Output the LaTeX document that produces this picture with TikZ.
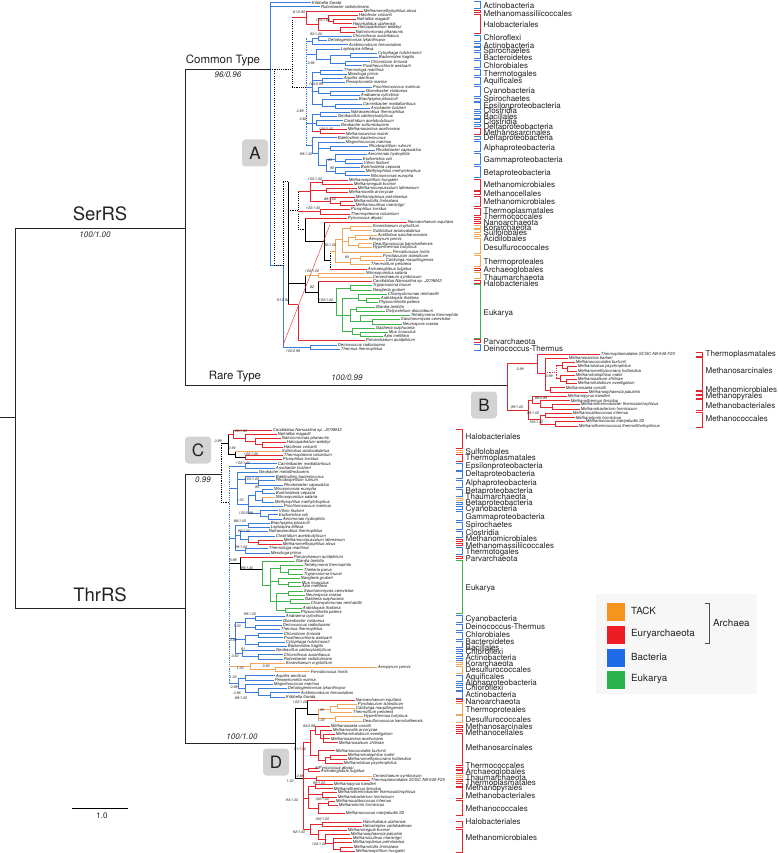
\documentclass[tikz,border=0pt]{standalone}
\usepackage{fontspec}
\setmainfont{TeX Gyre Heros}
\definecolor{cB}{HTML}{3A7DDA}
\definecolor{cR}{HTML}{E5262E}
\definecolor{cO}{HTML}{F2A65A}
\definecolor{cG}{HTML}{3DB54A}
\definecolor{lO}{HTML}{F7941E}
\definecolor{lR}{HTML}{EE1C25}
\definecolor{lB}{HTML}{1F6BE8}
\definecolor{lG}{HTML}{2AB34B}
\definecolor{txt}{HTML}{222222}
\definecolor{boxg}{HTML}{D3D3D3}
\tikzset{
 br/.style={line width=0.9pt},
 bl/.style={br,draw=cB}, rd/.style={br,draw=cR}, og/.style={br,draw=cO},
 gn/.style={br,draw=cG}, bk/.style={br,draw=black},
 dk/.style={bk,dash pattern=on 1.1pt off 1.1pt},
 db/.style={bl,dash pattern=on 1.1pt off 1.1pt},
 dr/.style={rd,dash pattern=on 1.1pt off 1.1pt},
 trunk/.style={line width=0.9pt,draw=black!85},
 leaf/.style={anchor=west,inner sep=0.5pt,text=txt,font=\fontsize{4.2}{4.6}\selectfont\itshape},
 supv/.style={inner sep=0.3pt,text=txt,font=\fontsize{3.6}{4}\selectfont\itshape},
 clab/.style={anchor=west,inner sep=0.5pt,text=txt,font=\fontsize{8}{8}\selectfont},
 bigl/.style={font=\fontsize{18.5}{20}\selectfont,inner sep=0,text=txt},
 midl/.style={font=\fontsize{11.5}{12}\selectfont,inner sep=0,text=txt},
 smi/.style={font=\fontsize{8}{9}\selectfont\itshape,inner sep=0,text=txt},
 boxlab/.style={fill=boxg,rounded corners=3.5pt,minimum width=26pt,minimum height=27pt,inner sep=0,font=\fontsize{17}{17}\selectfont,text=txt},
 legbox/.style={minimum width=18pt,minimum height=18pt,inner sep=0},
 legl/.style={anchor=west,inner sep=0,font=\fontsize{9.8}{10}\selectfont,text=txt},
 brk/.style={line width=0.6pt},
}
\begin{document}
\begin{tikzpicture}[x=1pt,y=-1pt]
\useasboundingbox (0,0) rectangle (778,853);
\fill[white] (0,0) rectangle (778,853);

% ---------- backbone ----------
\draw[trunk] (0,417)--(15,417) (15,228)--(15,608) (15,228)--(185,228)
 (185,69)--(185,385) (185,69)--(270,69) (185,385)--(507,385)
 (15,608)--(185,608) (185,474)--(185,743) (185,474)--(221,474) (185,743)--(295,743);
\node[bigl] (serrs) at (100,214) {SerRS};
\node[smi] (serbs) at (95,235) {100/1.00};
\node[midl] (ctype) at (223,60) {Common Type};
\node[smi] (ctbs) at (228,75) {96/0.96};
\node[midl] (rtype) at (235,377) {Rare Type};
\node[smi] (rtbs) at (347,378) {100/0.99};
\node[bigl] (thrrs) at (100,595) {ThrRS};
\node[smi] (cbs) at (203,480) {0.99};
\node[smi] (dbs) at (242,737) {100/1.00};
\node[boxlab] (boxA) at (255,153) {A};
\node[boxlab] (boxB) at (484,405) {B};
\node[boxlab] (boxC) at (198,450) {C};
\node[boxlab] (boxD) at (276,762) {D};
\coordinate (sb1) at (72,808); \coordinate (sb2) at (128,808);
\draw[line width=0.8pt] (sb1)--(sb2);
\node[font=\fontsize{8}{9}\selectfont,inner sep=0,text=txt] (sbl) at (102,816) {1.0};

% ---------- subtree A ----------
\begin{scope}[yshift=-2.5pt,y={(0pt,-4.23pt)}]
\draw[bl] (270,0)--(270,62.06)--(283,62.06)--(283,81.5)--(310,81.5) (310,81)--(310,82);
\draw[dk] (270,15.72)--(292,15.72) (292,3.5)--(292,20) (292,20)--(306,20) (274,15.72)--(274,62.06)--(283,62.06);
\draw[db] (306,8.5)--(306,33.9);
\draw[rd] (292,3.5)--(306,3.5) (306,2)--(306,5.1) (306,5.1)--(318,5.1) (318,3.75)--(318,6.5) (318,3.75)--(328,3.75) (328,3)--(328,4.5) (328,4.5)--(333,4.5) (333,4)--(333,5) (318,6.5)--(340,6.5) (340,6)--(340,7);
\draw[bl] (306,9.25)--(312,9.25) (312,8.5)--(312,10) (312,8.5)--(318,8.5) (318,8)--(318,9)
 (306,12.25)--(316,12.25) (316,11)--(316,13.5) (316,13.5)--(330,13.5) (330,12.5)--(330,14.5) (330,12.5)--(350,12.5) (350,12)--(350,13) (330,14.5)--(345,14.5) (345,14)--(345,15);
\draw[bl] (306,20)--(312,20) (312,16.5)--(312,24) (312,16.5)--(320,16.5) (320,16)--(320,17) (312,18.5)--(322,18.5) (322,18)--(322,19) (312,21)--(318,21) (318,20)--(318,21.5) (318,21.5)--(330,21.5) (330,21)--(330,22) (312,24)--(322,24) (322,23)--(322,24.5) (322,24.5)--(335,24.5) (335,24)--(335,25);
\draw[bl] (306,28.5)--(312,28.5) (312,26.5)--(312,30.5) (312,26.5)--(320,26.5) (320,26)--(320,27) (312,28.5)--(316,28.5) (316,28)--(316,29);
\draw[rd] (312,30.5)--(320,30.5) (320,30)--(320,31);
\draw[bl] (306,33.9)--(312,33.9) (312,32)--(312,35.75) (312,35.75)--(318,35.75) (318,33)--(318,38.5) (318,34.5)--(330,34.5) (330,34)--(330,35) (318,38.5)--(326,38.5) (326,37)--(326,40) (326,37)--(335,37) (335,36)--(335,37.5) (335,37.5)--(345,37.5) (345,37)--(345,38) (326,40)--(335,40) (335,39)--(335,40.5) (335,40.5)--(345,40.5) (345,40)--(345,41);
\draw[bk] (288,42.4)--(288,71.5);
\draw[dk] (283,42.4)--(288,42.4) (283,42.4)--(283,62.06) (288,49.2)--(298,49.2) (298,44.7)--(298,53.75) (298,53.75)--(305,53.75);
\draw[rd] (298,44.7)--(310,44.7) (310,42.5)--(310,47) (310,42.5)--(322,42.5) (322,42)--(322,43) (310,44.5)--(326,44.5) (326,44)--(326,45) (310,47)--(330,47) (330,46)--(330,47.5) (330,47.5)--(340,47.5) (340,47)--(340,48);
\draw[rd] (298,49.5)--(320,49.5) (320,49)--(320,50);
\draw[bk] (305,51)--(305,56.5) (305,56.5)--(324,56.5) (324,52)--(324,61) (324,61)--(330,61);
\draw[dk] (330,58.75)--(330,63);
\draw[og] (330,58.75)--(335,58.75) (335,56)--(335,61.5) (335,56)--(342,56) (342,53.5)--(342,59) (342,53.5)--(350,53.5) (350,53)--(350,54) (342,56.5)--(348,56.5) (348,55.5)--(348,57.5) (348,55.5)--(355,55.5) (355,55)--(355,56) (348,57.5)--(358,57.5) (358,57)--(358,58) (335,61.5)--(350,61.5) (350,60.5)--(350,62) (350,60.5)--(360,60.5) (360,60)--(360,61);
\draw[bk] (288,66.5)--(305,66.5) (305,64.5)--(305,68.5) (305,68.5)--(318,68.5) (318,66)--(318,71) (318,71)--(336,71);
\draw[og] (305,64.5)--(318,64.5) (318,64)--(318,65);
\draw[gn] (336,67.5)--(336,74) (336,67.5)--(350,67.5) (350,67)--(350,68) (336,74)--(342,74) (342,70)--(342,77.75) (342,70)--(358,70) (358,69)--(358,70.5) (358,70.5)--(366,70.5) (366,70)--(366,71) (342,74)--(350,74) (350,72.5)--(350,75.5) (350,72.5)--(356,72.5) (356,72)--(356,73) (350,75.5)--(360,75.5) (360,74)--(360,75.5) (360,75.5)--(372,75.5) (372,75)--(372,76) (342,77.75)--(352,77.75) (352,77)--(352,78.5) (352,78.5)--(360,78.5) (360,78)--(360,79);
\draw[rd] (288,71.5)--(298,71.5) (298,71.5)--(298,80);
\draw[cR,line width=0.4pt] (283,81)--(330,52.5);
\foreach \s/\a/\b/\n [count=\i from 0] in {
bl/270/311/Kribbella flavida, bl/270/320/Rubrobacter radiotolerans,
rd/306/363/Methanomethylophilus alvus, rd/328/358/Haloferax volcanii,
rd/333/356/Natrialba magadii, rd/333/352/Halorhabdus utahensis,
rd/340/357/Haloquadratum walsbyi, rd/340/355/Natronomonas pharaonis,
bl/318/352/Chloroflexus aurantiacus, bl/318/327/Dehalogenimonas lykanthropor,
bl/312/348/Acidimicrobium ferrooxidans, bl/316/340/Leptospira biflexa,
bl/350/377/Cytophaga hutchinsonii, bl/350/378/Bacteroides fragilis,
bl/345/370/Chlorobium limicola, bl/345/362/Prosthecochloris aestuarii,
bl/320/343/Thermotoga maritima, bl/320/347/Mesotoga prima,
bl/322/343/Aquifex aeolicus, bl/322/345/Persephonella marina,
bl/318/372/Prochlorococcus marinus, bl/330/365/Gloeobacter violaceus,
bl/330/360/Anabaena cylindrica, bl/322/358/Brachyspira pilosicoli,
bl/335/362/Caminibacter mediatlanticus, bl/335/370/Arcobacter butzleri,
bl/320/350/Natranaerobius thermophilus, bl/320/337/Geobacillus caldoxylosilyticus,
bl/316/343/Clostridium acetobutylicum, bl/316/340/Geobacter sulfurreducens,
rd/320/347/Methanosarcina acetivorans, rd/320/345/Methanosarcina mazei,
bl/312/337/Bdellovibrio bacteriovorus, bl/318/345/Magnetococcus marinus,
bl/330/368/Rhodospirillum rubrum, bl/330/375/Rhodobacter capsulatus,
bl/335/367/Aeromonas hydrophila, bl/345/362/Escherichia coli,
bl/345/363/Vibrio fischeri, bl/335/360/Burkholderia cepacia,
bl/345/365/Methylophilus methylotrophus, bl/345/370/Nitrosomonas europha,
rd/322/348/Methanospirillum hungatei, rd/322/353/Methanoregula boonei,
rd/326/357/Methanocorpusculum labreanum, rd/326/348/Methanocella arvoryzae,
rd/330/355/Methanoplanus petrolearius, rd/340/353/Methanofollis liminatans,
rd/340/355/Methanoculleus marisnigri, rd/320/350/Picrophilus torridus,
rd/320/350/Thermoplasma volcanium, rd/305/347/Pyrococcus abyssi,
rd/324/407/Nanoarchaeum equitans, og/350/372/Korarchaeum cryptofilum,
og/350/372/Sulfolobus acidocaldarius, og/355/377/Acidilobus saccharovorans,
og/355/368/Aeropyrum pernix, og/358/372/Desulfurococcus kamchatkensis,
og/358/372/Hyperthermus butylicus, og/342/392/Fervidicoccus fontis,
og/360/382/Pyrobaculum islandicum, og/360/385/Caldivirga maquilingensis,
og/350/370/Thermofilum pendens, rd/330/367/Archaeoglobus fulgidus,
og/318/365/Nitrosopumilus salaria, og/318/372/Cenarchaeum symbiosum,
rd/318/372/Candidatus Nanosalina sp. J07AB43, gn/350/372/Trypanosoma brucei,
gn/350/372/Naegleria gruberi, gn/358/387/Chlamydomonas reinhardtii,
gn/366/380/Arabidopsis thaliana, gn/366/378/Physcomitrella patens,
gn/356/375/Giardia lamblia, gn/356/385/Dictyostelium discoideum,
gn/360/410/Tetrahymena thermophila, gn/372/400/Saccharomyces cerevisiae,
gn/372/402/Neurospora crassa, gn/352/375/Galdieria sulphuraria,
gn/360/388/Mus musculus, gn/360/383/Apis mellifera,
rd/298/365/Parvarchaeum acidiphilum, bl/310/337/Deinococcus radiodurans,
bl/310/340/Thermus thermophilus}
{\draw[\s] (\a,\i)--(\b,\i) node[leaf] (A\i) {\n};}
\foreach \x/\y/\t [count=\j] in {299/2.4/{81/0.90}, 323/4.3/{100/1.00}, 316/7.6/{93/1.00}, 311/14.3/{0.96},
 316/19.3/{100/0.99}, 300/25.7/{0.89}, 303/27.5/{0.82}, 326/29.9/{100/1.00}, 306/35.9/{99/1.00},
 330/37.2/{95}, 332/39.3/{95}, 315/41.8/{100/1.00}, 330/46.4/{89/1.00}, 313/48.7/{100/1.00},
 330/57.4/{95/1.00}, 347/60.2/{84}, 312/63.6/{100/1.00}, 312/67.4/{82}, 326/70.5/{100/1.00},
 283/70.4/{91/0.92}, 293/82.4/{100/0.99}}
{\node[supv] (sa\j) at (\x,\y) {\t};}
\end{scope}

% ---------- subtree B ----------
\begin{scope}[yshift=-354pt,y={(0pt,-4.24pt)}]
\draw[rd] (507,2.3)--(507,13.2) (507,2.3)--(537,2.3) (537,0)--(537,4.6) (537,4.6)--(545,4.6) (545,1)--(545,8.5) (545,8.5)--(550,8.5) (550,8)--(550,9)
 (507,13.2)--(528,13.2) (528,10.9)--(528,15.5) (528,10.9)--(532,10.9) (532,10)--(532,11.75) (532,11.75)--(540,11.75) (540,11)--(540,12.5) (540,12.5)--(552,12.5) (552,12)--(552,13)
 (528,15.5)--(540,15.5) (540,14.5)--(540,16.5) (540,14.5)--(545,14.5) (545,14)--(545,15) (540,16.5)--(555,16.5) (555,16)--(555,17);
\draw[dr] (545,4.25)--(556,4.25) (556,2.75)--(556,5.75);
\draw[rd] (556,2.75)--(562,2.75) (562,2)--(562,3.5) (562,3.5)--(567,3.5) (567,3)--(567,4) (556,5.75)--(560,5.75) (560,5)--(560,6.5) (560,6.5)--(566,6.5) (566,6)--(566,7);
\foreach \s/\a/\b/\n [count=\i from 0] in {
rd/537/600/Thermoplasmatales SCGC AB-540-F20, rd/545/568/Methanosarcina barkeri,
rd/562/575/Methanococcoides burtonii, rd/567/577/Methanolobus psychrophilus,
rd/567/577/Methanomethylovorans hollandica, rd/560/575/Methanohalophilus mahii,
rd/566/577/Methanosalsum zhilinae, rd/566/577/Methanohalobium evestigatum,
rd/550/565/Methanosaeta concilii, rd/550/588/Methanosphaerula palustris,
rd/532/567/Methanopyrus kandleri, rd/540/570/Methanothermus fervidus,
rd/552/580/Methanothermobacter thermautotrophicus, rd/552/580/Methanobacterium formicicum,
rd/545/572/Methanocaldococcus infernus, rd/545/575/Methanotorris formicicus,
rd/555/585/Methanococcus maripaludis S2, rd/555/578/Methanothermococcus thermolithotrophicus}
{\draw[\s] (\a,\i)--(\b,\i) node[leaf] (B\i) {\n};}
\foreach \x/\y/\t [count=\j] in {520/3.6/{0.99}, 549/5.2/{0.99}, 541/10.4/{99/0.99}, 517/12.6/{99/1.00},
 533/13.9/{99/1.00}, 536/16/{100/1.00}}
{\node[supv] (sb\j) at (\x,\y) {\t};}
\end{scope}

% ---------- subtree C ----------
\begin{scope}[yshift=-430pt,y={(0pt,-4.24pt)}]
\draw[dk] (221,3.07)--(221,17.2) (221,17.2)--(229,17.2);
\draw[bk] (221,3.07)--(228,3.07) (228,0.95)--(228,5.75) (228,5.75)--(235,5.75) (235,5)--(235,6.5) (235,6.5)--(245,6.5);
\draw[rd] (228,0.95)--(233,0.95) (233,0)--(233,1.9) (233,1.9)--(245,1.9) (245,1)--(245,2.75) (245,2.75)--(255,2.75) (255,2)--(255,3.5) (255,3.5)--(262,3.5) (262,3)--(262,4) (245,6)--(245,7);
\draw[db] (229,8.5)--(229,59.75);
\draw[bl] (229,8.5)--(245,8.5) (245,8)--(245,9);
\draw[bl] (229,13.8)--(237,13.8) (237,10)--(237,17.6) (237,11.75)--(245,11.75) (245,11)--(245,12.5) (245,12.5)--(258,12.5) (258,12)--(258,13) (237,17.6)--(248,17.6) (248,15.5)--(248,19.75) (248,15.5)--(255,15.5) (255,14.5)--(255,16.5) (255,14.5)--(262,14.5) (262,14)--(262,15) (255,16.5)--(262,16.5) (262,16)--(262,17) (248,19.75)--(260,19.75) (260,19)--(260,20.5) (260,20.5)--(268,20.5) (268,20)--(268,21);
\draw[bl] (229,25.5)--(235,25.5) (235,22.5)--(235,28.5) (235,22.5)--(248,22.5) (248,22)--(248,23) (235,24.9)--(240,24.9) (240,24)--(240,25.75) (240,25.75)--(248,25.75) (248,25)--(248,26.5) (235,28.5)--(245,28.5) (245,28)--(245,29);
\draw[rd] (248,26.5)--(258,26.5) (258,26)--(258,27);
\draw[bk] (229,31.5)--(240,31.5) (240,30)--(240,33) (240,33)--(262,33);
\draw[gn] (262,31)--(262,36.6) (262,36.6)--(270,36.6) (270,32.75)--(270,40.5) (270,32.75)--(280,32.75) (280,32)--(280,33.5) (280,33.5)--(288,33.5) (288,33)--(288,34) (270,35.75)--(278,35.75) (278,35)--(278,36.5) (278,36.5)--(288,36.5) (288,36)--(288,37) (270,40.5)--(276,40.5) (276,38.5)--(276,42.5) (276,38.5)--(288,38.5) (288,38)--(288,39) (276,40.5)--(290,40.5) (290,40)--(290,41) (276,42.5)--(285,42.5) (285,42)--(285,43);
\draw[bl] (229,49.1)--(235,49.1) (235,45.5)--(235,52.75) (235,45.5)--(245,45.5) (245,44.5)--(245,46.5) (245,44.5)--(255,44.5) (255,44)--(255,45) (245,46.5)--(255,46.5) (255,46)--(255,47) (235,49.5)--(245,49.5) (245,48.5)--(245,50.5) (245,48.5)--(258,48.5) (258,48)--(258,49) (245,50.5)--(258,50.5) (258,50)--(258,51) (235,52.75)--(242,52.75) (242,52)--(242,53.5) (242,53.5)--(258,53.5) (258,53)--(258,54);
\draw[og] (229,55.75)--(250,55.75) (250,55)--(250,56.5) (250,56.5)--(275,56.5) (275,56)--(275,57);
\draw[bl] (229,59.75)--(238,59.75) (238,58.5)--(238,61) (238,58.5)--(245,58.5) (245,58)--(245,59) (238,61)--(245,61) (245,60)--(245,62) (245,62)--(258,62) (258,61)--(258,62.5) (258,62.5)--(270,62.5) (270,62)--(270,63);
\foreach \s/\a/\b/\n [count=\i from 0] in {
rd/233/272/Candidatus Nanosalina sp. J07AB43, rd/245/277/Natrialba magadii,
rd/255/281/Natronomonas pharaonis, rd/262/286/Haloquadratum walsbyi,
rd/262/283/Haloferax volcanii, og/235/281/Sulfolobus acidocaldarius,
rd/245/283/Thermoplasma volcanium, rd/245/282/Picrophilus torridus,
bl/245/277/Caminibacter mediatlanticus, bl/245/275/Arcobacter butzleri,
bl/237/258/Geobacter metallireducens, bl/245/275/Bdellovibrio bacteriovorus,
bl/258/275/Rhodospirillum rubrum, bl/258/283/Rhodobacter capsulatus,
bl/262/273/Nitrosomonas europha, bl/262/275/Burkholderia cepacia,
og/262/275/Nitrosopumilus salaria, bl/262/274/Methylophilus methylotrophus,
bl/248/283/Prochlorococcus marinus, bl/260/278/Vibrio fischeri,
bl/268/278/Escherichia coli, bl/268/282/Aeromonas hydrophila,
bl/248/270/Brachyspira pilosicoli, bl/248/270/Leptospira biflexa,
bl/240/268/Natranaerobius thermophilus, bl/248/275/Clostridium acetobutylicum,
rd/258/283/Methanocorpusculum labreanum, rd/258/282/Methanomethylophilus alvus,
bl/245/268/Thermotoga maritima, bl/245/270/Mesotoga prima,
rd/240/293/Parvarchaeum acidiphilum, gn/262/295/Giardia lamblia,
gn/280/303/Tetrahymena thermophila, gn/288/303/Theileria parva,
gn/288/303/Trypanosoma brucei, gn/278/300/Naegleria gruberi,
gn/288/301/Mus musculus, gn/288/301/Apis mellifera,
gn/288/303/Saccharomyces cerevisiae, gn/288/305/Neurospora crassa,
gn/290/304/Galdieria sulphuraria, gn/290/310/Chlamydomonas reinhardtii,
gn/285/302/Arabidopsis thaliana, gn/285/300/Physcomitrella patens,
bl/255/285/Anabaena cylindrica, bl/255/282/Gloeobacter violaceus,
bl/255/282/Deinococcus radiodurans, bl/255/280/Thermus thermophilus,
bl/258/283/Chlorobium limicola, bl/258/283/Prosthecochloris aestuarii,
bl/258/285/Cytophaga hutchinsonii, bl/258/287/Bacteroides fragilis,
bl/242/275/Geobacillus caldoxylosilyticus, bl/258/283/Chloroflexus aurantiacus,
bl/258/283/Rubrobacter radiotolerans, og/250/285/Korarchaeum cryptofilum,
og/275/377/Aeropyrum pernix, og/275/310/Fervidicoccus fontis,
bl/245/275/Aquifex aeolicus, bl/245/274/Persephonella marina,
bl/245/273/Magnetococcus marinus, bl/258/287/Dehalogenimonas lykanthropor,
bl/270/300/Acidimicrobium ferrooxidans, bl/270/285/Kribbella flavida}
{\draw[\s] (\a,\i)--(\b,\i) node[leaf] (C\i) {\n};}
\foreach \x/\y/\t [count=\j] in {241/0.2/{99/1.00}, 218/2.6/{0.99}, 232/4.2/{0.94}, 251/5.7/{100/1.00},
 243/7.8/{100/1.00}, 252/11.7/{100/1.00}, 257/13.6/{95}, 240/16.6/{1.00}, 246/19.7/{100/0.99},
 240/21.6/{88/1.00}, 244/23.9/{86/1.00}, 241/27.6/{99/1.00}, 233/30.7/{0.98}, 247/32.5/{99/1.00},
 250/43.4/{99/1.00}, 237/46.4/{1.00}, 233/49.6/{0.98}, 243/51.6/{81}, 235/53.3/{0.80},
 240/56.3/{1.00}, 266/55.8/{0.90}, 233/58.4/{1.00}, 234/60.6/{0.98}, 237/62.1/{0.96}, 241/63.3/{89/1.00}}
{\node[supv] (sc\j) at (\x,\y) {\t};}
\end{scope}

% ---------- subtree D ----------
\begin{scope}[yshift=-700pt,y={(0pt,-4.2pt)}]
\draw[bk] (295,1.9)--(295,18.6) (295,1.9)--(307,1.9) (307,0)--(307,3.4) (307,3.4)--(318,3.4) (295,18.6)--(303,18.6);
\draw[og] (318,2.25)--(318,4.5) (318,2.25)--(330,2.25) (330,1.5)--(330,3) (330,1.5)--(337,1.5) (337,1)--(337,2) (318,4.5)--(335,4.5) (335,4)--(335,5);
\draw[rd] (303,10.2)--(303,30.8) (303,10.2)--(310,10.2) (310,7.2)--(310,13.25) (310,7.2)--(315,7.2) (315,6.2)--(315,8.2) (315,8.2)--(320,8.2) (320,7.2)--(320,9.15) (320,9.15)--(323,9.15) (323,8.1)--(323,10.2)
 (310,13.25)--(318,13.25) (318,12.1)--(318,14.4) (318,14.4)--(325,14.4) (325,13.6)--(325,15.2) (325,13.6)--(330,13.6) (330,13.1)--(330,14.1)
 (303,16.65)--(308,16.65) (308,16.2)--(308,17.1) (303,18.65)--(316,18.65) (316,18.2)--(316,19.1)
 (303,23.5)--(308,23.5) (308,20.65)--(308,25.9) (308,20.65)--(315,20.65) (315,20.2)--(315,21.1) (308,22.6)--(322,22.6) (322,22.1)--(322,23.1) (308,25.9)--(318,25.9) (318,24.6)--(318,27.1) (318,24.6)--(328,24.6) (328,24.1)--(328,25.1)
 (303,30.8)--(310,30.8) (310,29.55)--(310,32.1) (310,29.55)--(322,29.55) (322,29.1)--(322,30) (310,32.1)--(318,32.1) (318,31)--(318,33.2) (318,33.2)--(325,33.2) (325,32.1)--(325,34.25) (325,34.25)--(333,34.25) (333,33)--(333,35.5) (333,35.5)--(340,35.5) (340,35)--(340,36);
\foreach \k/\s/\a/\b/\n [count=\i] in {
0/rd/307/355/Nanoarchaeum equitans, 1/og/337/357/Pyrobaculum islandicum,
2/og/337/355/Caldivirga maquilingensis, 3/og/330/352/Thermofilum pendens,
4/og/335/363/Hyperthermus butylicus, 5/og/335/362/Desulfurococcus kamchatkensis,
6.2/rd/315/330/Methanosaeta concilii, 7.2/rd/320/332/Methanocella arvoryzae,
8.1/rd/323/335/Methanohalobium evestigatum, 9.2/rd/323/330/Methanosarcina acetivorans,
10.2/rd/323/338/Methanosalsum zhilinae, 12.1/rd/318/335/Methanococcoides burtonii,
13.1/rd/330/347/Methanohalophilus mahii, 14.1/rd/330/347/Methanomethylovorans hollandica,
15.2/rd/325/343/Methanolobus psychrophilus, 16.2/rd/308/318/Pyrococcus abyssi,
17.1/rd/308/320/Archaeoglobus fulgidus, 18.2/og/316/372/Cenarchaeum symbiosum,
19.1/rd/316/370/Thermoplasmatales SCGC AB-540-F20, 20.2/rd/315/333/Methanopyrus kandleri,
21.1/rd/315/333/Methanothermus fervidus, 22.1/rd/322/337/Methanothermobacter thermautotrophicus,
23.1/rd/322/337/Methanobacterium formicicum, 24.1/rd/328/335/Methanocaldococcus infernus,
25.1/rd/328/338/Methanotorris formicicus, 27.1/rd/318/345/Methanococcus maripaludis S2,
29.1/rd/322/362/Halorhabdus utahensis, 30/rd/322/362/Halosimplex carlsbadense,
31/rd/318/347/Methanoregula boonei, 32.1/rd/325/350/Methanosphaerula palustris,
33/rd/333/352/Methanoculleus marisnigri, 34/rd/333/352/Methanoplanus petrolearius,
35/rd/340/353/Methanofollis liminatans, 36/rd/340/355/Methanospirillum hungatei}
{\draw[\s] (\a,\k)--(\b,\k) node[leaf] (D\i) {\n};}
\foreach \x/\y/\t [count=\j] in {300/0.6/{100/1.00}, 322/2.4/{95}, 321/4.8/{1.00}, 309/6.3/{94/0.98},
 300/11.7/{91/1.00}, 317/16.2/{95}, 300/18.1/{0.98}, 319/19.8/{95/1.00}, 290/19.4/{1.00},
 322/23.7/{100/1.00}, 292/23.9/{94/1.00}, 322/28.4/{100/1.00}, 299/31.4/{92/1.00}, 319/34.3/{100/1.00}}
{\node[supv] (sd\j) at (\x,\y) {\t};}
\end{scope}

% ---------- clade labels ----------
\foreach \p/\q/\c/\l/\t [count=\j] in {
1/8.5/cB/6/Actinobacteria, 10/12.5/cR/13.5/Methanomassiliicoccales,
14/33.5/cR/25/Halobacteriales, 35/41.8/cB/38/Chloroflexi,
43.6/46/cB/46/Actinobacteria, 47.8/50.2/cB/51/Spirochaetes,
52/58.7/cB/57.5/Bacteroidetes, 60.5/67.2/cB/66/Chlorobiales,
69/75.6/cB/74.5/Thermotogales, 77.4/84.1/cB/81.5/Aquificales,
86/96.8/cB/91/Cyanobacteria, 98.6/101/cB/99.5/Spirochaetes,
102.8/109.5/cB/106/Epsilonproteobacteria, 111.3/113.7/cB/111/Clostridia,
115.5/118/cB/116.5/Bacillales, 119.7/122.1/cB/121.5/Clostridia,
124/126.4/cB/127/Deltaproteobacteria, 128.2/134.8/cR/132.5/Methanosarcinales,
136.7/139.1/cB/138/Deltaproteobacteria, 140.9/151.8/cB/148/Alphaproteobacteria,
153.6/164.4/cB/160/Gammaproteobacteria, 166.3/177.1/cB/173/Betaproteobacteria,
179/189.8/cR/185/Methanomicrobiales, 191.7/194.1/cR/193.5/Methanocellales,
195.9/206.7/cR/201.5/Methanomicrobiales, 208.6/215.2/cR/211/Thermoplasmatales,
217/219.4/cR/217/Thermococcales, 221.3/223.7/cR/222.5/Nanoarchaeota,
225.5/227.9/cO/228/Korarchaeota, 229.7/232.1/cO/233/Sulfolobales,
234/236.4/cO/238.5/Acidilobales, 238.2/253.3/cO/247.5/Desulfurococcales,
255.1/266/cO/262/Thermoproteales, 267.8/270.2/cR/270/Archaeoglobales,
272/278.7/cO/277.5/Thaumarchaeota, 280.5/282.9/cR/284/Halobacteriales,
284.7/337.9/cG/313/Eukarya, 339.7/342.1/cR/342/Parvarchaeota,
343.9/350.6/cB/349/Deinococcus-Thermus}
{\draw[brk,draw=\c] (474,\p)--(480,\p)--(480,\q)--(474,\q); \node[clab] (ka\j) at (483,\l) {\t};}
\foreach \p/\q/\c/\l/\t [count=\j] in {
352/356/cR/354/Thermoplasmatales, 357/390/cR/371/Methanosarcinales,
390.8/394.5/cR/390/Methanomicrobiales, 395.3/398/cR/396.5/Methanopyrales,
399.5/410.5/cR/406/Methanobacteriales, 412/427/cR/419/Methanococcales}
{\draw[brk,draw=\c] (696,\p)--(702,\p)--(702,\q)--(696,\q); \node[clab] (kb\j) at (705,\l) {\t};}
\foreach \p/\q/\c/\l/\t [count=\j] in {
429/448/cR/437/Halobacteriales, 450/452.5/cO/452/Sulfolobales,
454.3/460.8/cR/458.5/Thermoplasmatales, 462.8/469.8/cB/466/Epsilonproteobacteria,
471.7/478.6/cB/474/Deltaproteobacteria, 480.5/487.1/cB/483/Alphaproteobacteria,
489.3/495.8/cB/491/Betaproteobacteria, 497.8/500.2/cO/497/Thaumarchaeota,
502/504.4/cB/503/Betaproteobacteria, 506.4/508.8/cB/509/Cyanobacteria,
510.8/520/cB/517/Gammaproteobacteria, 522.3/529/cB/525/Spirochaetes,
530.8/537.4/cB/533/Clostridia, 539/541.5/cR/539/Methanomicrobiales,
543.3/545.7/cR/546/Methanomassiliicoccales, 547.5/554/cB/552/Thermotogales,
556/558.4/cR/559/Parvarchaeota, 560.3/613.5/cG/588/Eukarya,
615.4/622/cB/619/Cyanobacteria, 623.9/630.6/cB/627/Deinococcus-Thermus,
632.3/639/cB/635/Chlorobiales, 640.8/647.4/cB/642/Bacteroidetes,
649.3/651.7/cB/648/Bacillales, 653.5/656/cB/652/Chloroflexi,
657.8/660.2/cB/658/Actinobacteria, 662/664.5/cO/664/Korarchaeota,
666.3/673/cO/670/Desulfurococcales, 674.8/681.4/cB/677/Aquificales,
683.2/685.6/cB/683/Alphaproteobacteria, 687.5/689.9/cB/688/Chloroflexi,
691.7/698.3/cB/695/Actinobacteria, 698.8/701.2/cR/702/Nanoarchaeota,
703/714/cO/710/Thermoproteales, 715.6/722.2/cO/720/Desulfurococcales,
724.8/727.2/cR/727/Methanosarcinales, 729/731.5/cR/733/Methanocellales,
733/765/cR/748/Methanosarcinales, 766.8/769.2/cR/766/Thermococcales,
770.6/773/cR/772/Archaeoglobales, 775.2/777.6/cO/778/Thaumarchaeota,
779/781.4/cR/783/Thermoplasmatales, 783.6/786/cR/788/Methanopyrales,
787.4/798.2/cR/796/Methanobacteriales, 800/815/cR/809/Methanococcales,
821/827.2/cR/822/Halobacteriales, 829/852.4/cR/838/Methanomicrobiales}
{\draw[brk,draw=\c] (456,\p)--(462,\p)--(462,\q)--(456,\q); \node[clab] (kc\j) at (465,\l) {\t};}

% ---------- legend ----------
\fill[black!3] (596,594) rectangle (757,694);
\node[legbox,fill=lO] (kT) at (616,612) {};
\node[legbox,fill=lR] (kE) at (616,635) {};
\node[legbox,fill=lB] (kBa) at (616,658) {};
\node[legbox,fill=lG] (kEu) at (616,680) {};
\node[legl] (lT) at (631,611) {TACK};
\node[legl] (lE) at (631,634) {Euryarchaeota};
\node[legl] (lBa) at (631,657) {Bacteria};
\node[legl] (lEu) at (631,679) {Eukarya};
\coordinate (ar1) at (705,603); \coordinate (ar2) at (705,643);
\draw[line width=0.6pt,draw=black!70] (ar1)--(709,603)--(709,643)--(ar2);
\node[legl] (lAr) at (713,623) {Archaea};
\end{tikzpicture}
\end{document}
